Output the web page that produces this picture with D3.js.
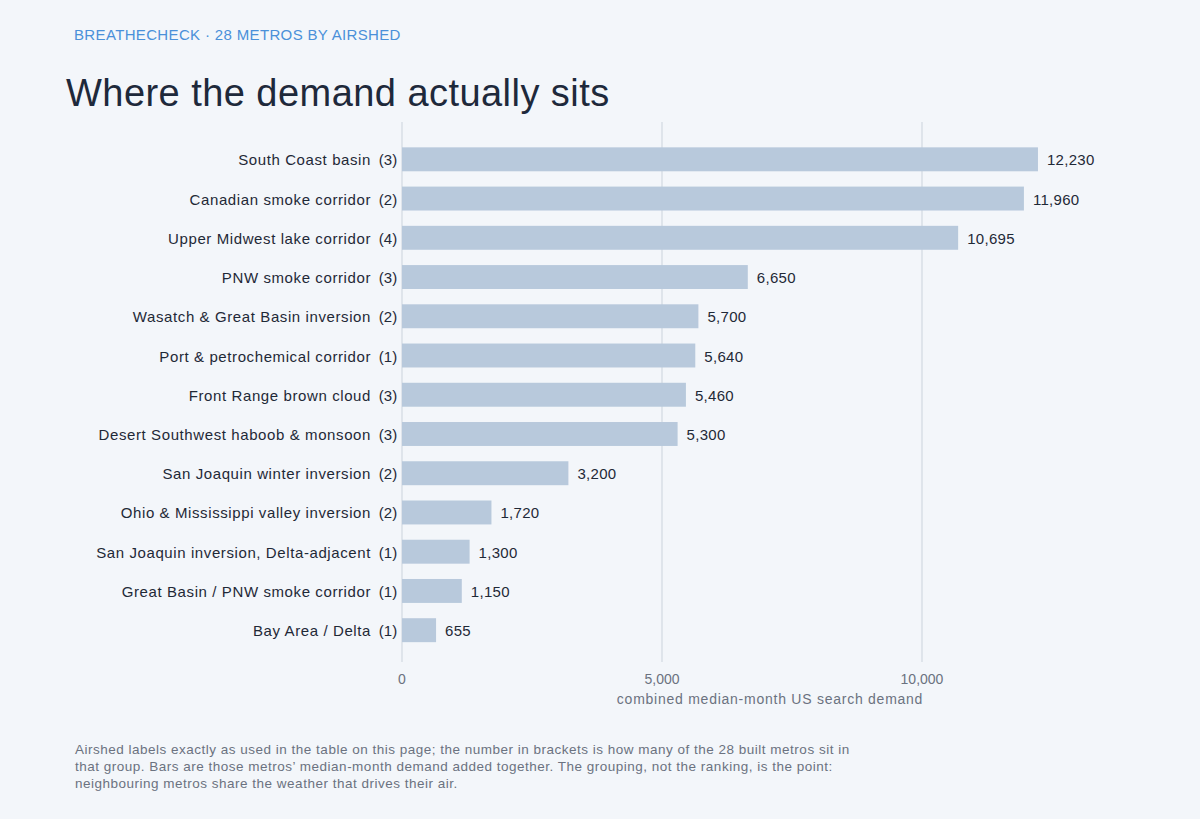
<!DOCTYPE html>
<html><head><meta charset="utf-8">
<script src="https://cdn.jsdelivr.net/npm/d3@7"></script>
<style>body{margin:0;background:#f3f6fa;font-family:"Liberation Sans",Arial,sans-serif}</style>
</head><body><svg id="c" width="1200" height="819"></svg>
<script>
const categories=["South Coast basin","Canadian smoke corridor","Upper Midwest lake corridor","PNW smoke corridor","Wasatch & Great Basin inversion","Port & petrochemical corridor","Front Range brown cloud","Desert Southwest haboob & monsoon","San Joaquin winter inversion","Ohio & Mississippi valley inversion","San Joaquin inversion, Delta-adjacent","Great Basin / PNW smoke corridor","Bay Area / Delta"];
const counts=[3,2,4,3,2,1,3,3,2,2,1,1,1];
const values=[12230,11960,10695,6650,5700,5640,5460,5300,3200,1720,1300,1150,655];
const ticks=[0,5000,10000];
const svg=d3.select("#c");
svg.append("rect").attr("width",1200).attr("height",819).attr("fill","#f3f6fa");
const x=d3.scaleLinear().domain([0,10000]).range([402,922]);
const y=d3.scaleBand().domain(categories).range([139.5,650]).paddingInner(0.39).paddingOuter(0.2);
svg.append("text").attr("x",74).attr("y",40).attr("fill","#4a90d9").attr("font-size",15).attr("letter-spacing",0.35).text("BREATHECHECK · 28 METROS BY AIRSHED");
svg.append("text").attr("x",66).attr("y",106).attr("fill","#1e293b").attr("font-size",38).attr("letter-spacing",0.45).text("Where the demand actually sits");
svg.selectAll(".g").data(ticks).join("line").attr("x1",d=>x(d)).attr("x2",d=>x(d)).attr("y1",122).attr("y2",662).attr("stroke","#cbd3dc").attr("stroke-width",1);
svg.selectAll(".b").data(values).join("rect").attr("x",x(0)).attr("y",(d,i)=>y(categories[i])).attr("width",d=>x(d)-x(0)).attr("height",y.bandwidth()).attr("fill","#b8c9dc");
const g=svg.append("g").attr("font-size",15).attr("fill","#1f2937");
categories.forEach((c,i)=>{const cy=y(c)+y.bandwidth()/2+6;
 g.append("text").attr("x",371).attr("y",cy).attr("text-anchor","end").attr("letter-spacing",0.6).text(c);
 g.append("text").attr("x",388).attr("y",cy).attr("text-anchor","middle").text("("+counts[i]+")");
 g.append("text").attr("x",x(values[i])+9).attr("y",cy).attr("letter-spacing",0.3).text(d3.format(",")(values[i]));
});
svg.selectAll(".t").data(ticks).join("text").attr("x",d=>x(d)).attr("y",684).attr("text-anchor","middle").attr("font-size",14).attr("fill","#6b7280").text(d=>d3.format(",")(d));
svg.append("text").attr("x",770).attr("y",704).attr("text-anchor","middle").attr("font-size",14).attr("letter-spacing",0.75).attr("fill","#6b7280").text("combined median-month US search demand");
const foot=["Airshed labels exactly as used in the table on this page; the number in brackets is how many of the 28 built metros sit in","that group. Bars are those metros’ median-month demand added together. The grouping, not the ranking, is the point:","neighbouring metros share the weather that drives their air."];
svg.selectAll(".f").data(foot).join("text").attr("x",75).attr("y",(d,i)=>754+i*17).attr("font-size",13.5).attr("letter-spacing",0.5).attr("fill","#6b7280").text(d=>d);
</script></body></html>
